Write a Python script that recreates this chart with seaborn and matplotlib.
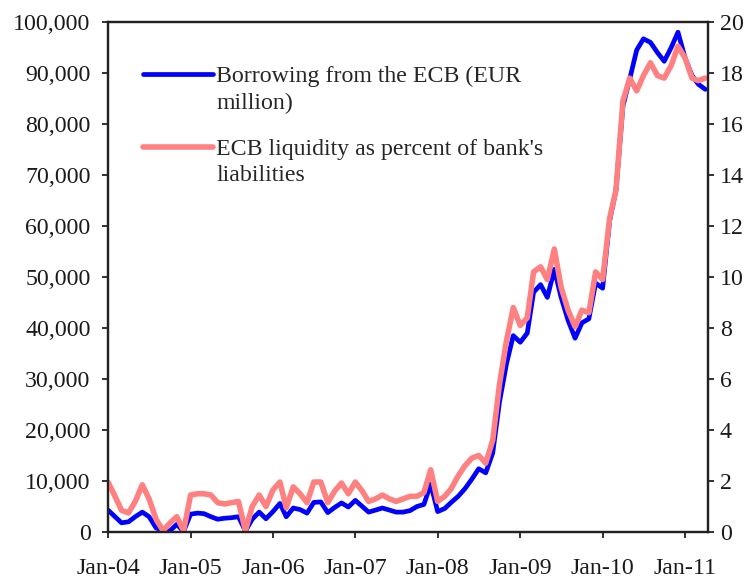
import numpy as np
import pandas as pd
import seaborn as sns
import matplotlib.pyplot as plt
import matplotlib.dates as mdates
from matplotlib.ticker import FuncFormatter, MultipleLocator
from matplotlib.legend_handler import HandlerLine2D

# monthly data, Jan-2004 .. Apr-2011
months = pd.date_range("2004-01-01", "2011-04-01", freq="MS")

# Borrowing from the ECB, EUR million
borrowing = [
    4300, 3000, 1800, 2000, 3000, 3900, 3000, 800, 300, 200, 1500, 100,
    3500, 3700, 3600, 3000, 2500, 2700, 2800, 3000, 200, 2500, 3900, 2600,
    4000, 5600, 3000, 4700, 4400, 3700, 5800, 5900, 3800, 4800, 5700, 4900,
    6200, 5000, 3900, 4300, 4700, 4300, 3900, 3900, 4200, 5000, 5400, 9400,
    4000, 4600, 5800, 7000, 8500, 10400, 12400, 11600, 15500, 25500, 33000, 38500,
    37200, 39000, 47000, 48500, 46000, 51500, 46000, 41500, 38000, 41000, 41800, 48800,
    47800, 61000, 67000, 83500, 88800, 94500, 96700, 96000, 94000, 92300, 95000, 98000,
    93000, 89500, 87800, 86800,
]

# ECB liquidity as percent of banks' liabilities
liquidity_pct = [
    1.96, 1.40, 0.85, 0.75, 1.20, 1.85, 1.30, 0.50, 0.05, 0.35, 0.60, 0.05,
    1.45, 1.50, 1.50, 1.45, 1.15, 1.10, 1.15, 1.20, 0.05, 1.00, 1.45, 1.00,
    1.65, 1.96, 0.95, 1.77, 1.50, 1.15, 1.96, 1.96, 1.15, 1.60, 1.92, 1.50,
    1.96, 1.60, 1.20, 1.30, 1.45, 1.30, 1.20, 1.30, 1.40, 1.40, 1.55, 2.44,
    1.20, 1.40, 1.70, 2.20, 2.60, 2.90, 3.00, 2.70, 3.60, 5.80, 7.50, 8.80,
    8.10, 8.40, 10.20, 10.40, 9.90, 11.10, 9.60, 8.70, 8.05, 8.70, 8.60, 10.20,
    9.90, 12.30, 13.40, 16.90, 17.80, 17.30, 17.90, 18.40, 17.90, 17.80, 18.30, 19.05,
    18.60, 17.80, 17.70, 17.80,
]

label_borrow = "Borrowing from the ECB (EUR\nmillion)"
label_liq = "ECB liquidity as percent of bank's\nliabilities"

FS = 17.2
LINESP = 1.32


class FirstLineHandler(HandlerLine2D):
    # put the legend line next to the first text line, like Excel does
    def __init__(self, shift, **kw):
        super().__init__(**kw)
        self.shift = shift

    def create_artists(self, legend, orig_handle, xdescent, ydescent,
                       width, height, fontsize, trans):
        arts = super().create_artists(legend, orig_handle, xdescent, ydescent,
                                      width, height, fontsize, trans)
        for a in arts:
            a.set_ydata(np.asarray(a.get_ydata()) + self.shift)
        return arts


sns.set_style("ticks")
plt.rcParams['font.family'] = ['Liberation Serif', 'DejaVu Serif']
plt.rcParams['font.size'] = FS

fig = plt.figure(figsize=(7.53, 5.80), dpi=100)
ax = fig.add_axes([108 / 753, 48 / 580, 600 / 753, 510 / 580])
ax2 = ax.twinx()

sns.lineplot(x=months, y=borrowing, ax=ax, color="#0000FF", lw=3.4,
             label=label_borrow, legend=False)
sns.lineplot(x=months, y=liquidity_pct, ax=ax2, color="#FF8080", lw=4.0,
             label=label_liq, legend=False)

ax.set_xlim(months[0], pd.Timestamp("2011-04-13"))
ax.set_ylim(0, 100000)
ax2.set_ylim(0, 20)
ax.yaxis.set_major_locator(MultipleLocator(10000))
ax.yaxis.set_major_formatter(FuncFormatter(lambda v, p: f"{int(v):,}"))
ax2.yaxis.set_major_locator(MultipleLocator(2))
ax.xaxis.set_major_locator(mdates.YearLocator())
ax.xaxis.set_major_formatter(mdates.DateFormatter("%b-%y"))
ax.set_xlabel("")
ax.set_ylabel("")
ax2.set_ylabel("")

for a in (ax, ax2):
    for s in a.spines.values():
        s.set_visible(True)
        s.set_linewidth(1.6)
        s.set_color("#222222")
    a.tick_params(direction="out", length=4.5, width=1.3, color="#222222",
                  labelcolor="#1a1a1a", labelsize=FS)
ax.tick_params(axis="y", pad=8)
ax.tick_params(axis="x", pad=14)
ax2.tick_params(axis="y", pad=4)

h1, l1 = ax.get_legend_handles_labels()
h2, l2 = ax2.get_legend_handles_labels()
shift = 0.5 * FS * (LINESP - 0.05)
leg = ax2.legend(h1 + h2, l1 + l2, loc="upper left", bbox_to_anchor=(0.038, 0.937),
                 frameon=False, borderpad=0, handlelength=2.95, handletextpad=0.12,
                 labelspacing=1.05, fontsize=FS,
                 handler_map={h: FirstLineHandler(shift) for h in h1 + h2})
for t in leg.get_texts():
    t.set_linespacing(LINESP)

fig.savefig("out.png", dpi=100)
